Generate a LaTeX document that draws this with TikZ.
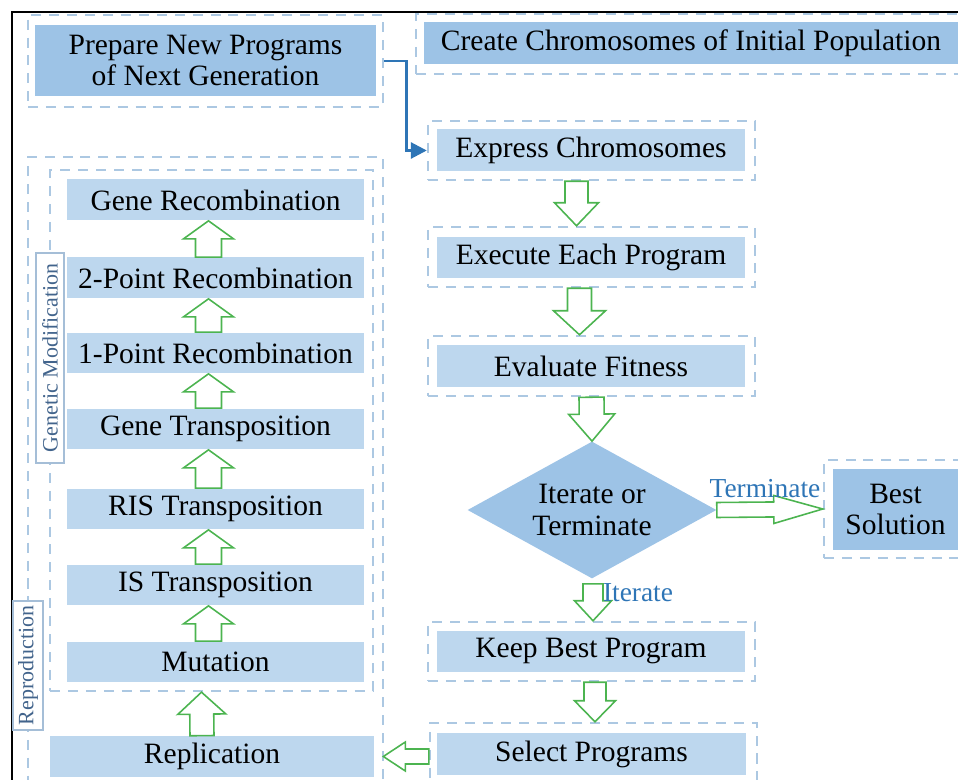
\documentclass[tikz,border=0pt]{standalone}
\usepackage{fontspec}
\setmainfont{Liberation Serif}
\usetikzlibrary{shapes.geometric,arrows.meta,calc}

\definecolor{darkfill}{RGB}{157,195,230}
\definecolor{lightfill}{RGB}{189,215,238}
\definecolor{dashblue}{RGB}{172,200,226}
\definecolor{arrowgreen}{RGB}{76,180,80}
\definecolor{linkblue}{RGB}{46,117,182}
\definecolor{tagtext}{RGB}{66,100,140}
\definecolor{tagline}{RGB}{165,190,215}

\tikzset{
  dashbox/.style={draw=dashblue, line width=1.4pt, dash pattern=on 5.7pt off 4.5pt, inner sep=0pt},
  stepbox/.style={fill=lightfill, inner sep=0pt, font=\fontsize{16.8}{18}\selectfont},
  darkbox/.style={fill=darkfill, inner sep=0pt, align=center, font=\fontsize{16.8}{18}\selectfont},
  hollow/.style={draw=arrowgreen, line width=0.9pt, fill=white, line join=miter},
  tag/.style={draw=tagline, fill=white, line width=0.6pt, rotate=90, text=tagtext, inner sep=0pt, font=\fontsize{12.5}{14}\selectfont},
  branch/.style={text=linkblue, inner sep=0pt, font=\fontsize{15.6}{18}\selectfont}
}

% block arrow: shaft half width, head half width, head length (px), from, to
\newcommand{\hollowarrow}[5]{%
  \coordinate (ha-s) at (#4);
  \coordinate (ha-e) at (#5);
  \coordinate (ha-c) at ($(ha-e)!#3*0.02cm!(ha-s)$);
  \draw[hollow] ($(ha-s)!#1*0.02cm!90:(ha-e)$) -- ($(ha-c)!#1*0.02cm!90:(ha-e)$)
    -- ($(ha-c)!#2*0.02cm!90:(ha-e)$) -- (ha-e)
    -- ($(ha-c)!#2*0.02cm!-90:(ha-e)$) -- ($(ha-c)!#1*0.02cm!-90:(ha-e)$)
    -- ($(ha-s)!#1*0.02cm!-90:(ha-e)$) -- cycle;
}

\begin{document}
\begin{tikzpicture}[x=0.02cm,y=-0.02cm]
\useasboundingbox (0,0) rectangle (958,780);
\draw[line width=1.2pt] (12,800) -- (12,12) -- (970,12);

% dashed frames
\node[dashbox, minimum width=7.1cm, minimum height=1.84cm] (prepD) at (205.5,61) {};
\node[dashbox, minimum width=11.08cm, minimum height=1.2cm] (createD) at (693,44) {};
\node[dashbox, minimum width=6.54cm, minimum height=1.18cm] (exprD) at (591.5,150.5) {};
\node[dashbox, minimum width=6.54cm, minimum height=1.2cm] (execD) at (591.5,257) {};
\node[dashbox, minimum width=6.54cm, minimum height=1.2cm] (evalD) at (591.5,366) {};
\node[dashbox, minimum width=6.54cm, minimum height=1.18cm] (keepD) at (591.5,651.5) {};
\node[dashbox, minimum width=6.54cm, minimum height=1.44cm] (selD) at (593.5,759) {};
\node[dashbox, minimum width=2.92cm, minimum height=1.96cm] (bestD) at (897,509) {};
\node[dashbox, minimum width=7.1cm, minimum height=12.86cm] (reproD) at (205.5,478.5) {};
\node[dashbox, minimum width=6.46cm, minimum height=10.42cm] (genD) at (211.5,430.5) {};

% side tags
\node[tag, minimum width=2.58cm, minimum height=0.6cm] (reprotag) at (28,665.5) {Reproduction};
\node[tag, minimum width=4.2cm, minimum height=0.56cm] (gentag) at (50,358) {Genetic Modification};

% top row
\node[darkbox, minimum width=6.82cm, minimum height=1.42cm] (prep) at (205.5,60.5) {Prepare New Programs\\of Next Generation};
\node[darkbox, minimum width=10.68cm, minimum height=0.84cm] (create) at (691,43) {Create Chromosomes of Initial Population};

% right column
\node[stepbox, minimum width=6.16cm, minimum height=0.84cm] (expr) at (591,150) {Express Chromosomes};
\node[stepbox, minimum width=6.16cm, minimum height=0.84cm] (exec) at (591,257.5) {Execute Each Program};
\node[stepbox, minimum width=6.16cm, minimum height=0.84cm] (eval) at (591,366) {Evaluate Fitness};
\node[diamond, fill=darkfill, aspect=1.82, minimum width=4.98cm, minimum height=2.74cm, inner sep=0pt, align=center, font=\fontsize{16.8}{18}\selectfont] (iter) at (592,510) {Iterate or\\Terminate};
\node[darkbox, minimum width=2.5cm, minimum height=1.62cm] (best) at (895.5,509.5) {Best\\Solution};
\node[stepbox, minimum width=6.16cm, minimum height=0.82cm] (keep) at (591,651.5) {Keep Best Program};
\node[stepbox, minimum width=6.18cm, minimum height=0.84cm] (sel) at (591.5,754) {Select Programs};

% left column
\node[stepbox, minimum width=5.94cm, minimum height=0.82cm] (generec) at (215.5,200) {Gene Recombination};
\node[stepbox, minimum width=5.94cm, minimum height=0.82cm] (twopoint) at (215.5,278) {2-Point Recombination};
\node[stepbox, minimum width=5.94cm, minimum height=0.82cm] (onepoint) at (215.5,353) {1-Point Recombination};
\node[stepbox, minimum width=5.94cm, minimum height=0.82cm] (genetrans) at (215.5,429) {Gene Transposition};
\node[stepbox, minimum width=5.94cm, minimum height=0.82cm] (ristrans) at (215.5,509) {RIS Transposition};
\node[stepbox, minimum width=5.94cm, minimum height=0.82cm] (istrans) at (215.5,585) {IS Transposition};
\node[stepbox, minimum width=5.94cm, minimum height=0.82cm] (mutation) at (215.5,662) {Mutation};
\node[stepbox, minimum width=6.48cm, minimum height=0.82cm] (replication) at (212,756.5) {Replication};

% blue link
\draw[linkblue, line width=1.6pt, -{Triangle[length=9pt,width=9pt]}] (prepD.east) -- ++(22,0) |- (exprD.west);

% right column arrows
\hollowarrow{11.5}{22}{23}{$(exprD.south)+(-15,0)$}{$(execD.north)+(-15,0)$}
\hollowarrow{12}{26}{24}{$(execD.south)+(-12,0)$}{$(evalD.north)+(-12,0)$}
\hollowarrow{12.5}{23}{27}{evalD.south}{iter.north}
\hollowarrow{7.5}{14}{49}{iter.east}{bestD.west}
\hollowarrow{10}{18.5}{20}{$(iter.south)+(1,5)$}{$(keepD.north)+(1.5,0)$}
\hollowarrow{11}{20.5}{21}{$(keepD.south)+(3.5,0)$}{$(selD.north)+(1.5,0)$}
\hollowarrow{7.5}{14.5}{22}{selD.west |- replication.east}{$(replication.east)+(9,0)$}

% left column arrows
\hollowarrow{13}{25}{18}{$(twopoint.north)+(-7,0)$}{$(generec.south)+(-7,0)$}
\hollowarrow{13}{25}{18}{$(onepoint.north)+(-7,0)$}{$(twopoint.south)+(-7,0)$}
\hollowarrow{13}{25}{18}{$(genetrans.north)+(-7,0)$}{$(onepoint.south)+(-7,0)$}
\hollowarrow{13}{25}{18}{$(ristrans.north)+(-7,0)$}{$(genetrans.south)+(-7,0)$}
\hollowarrow{13}{25}{18}{$(istrans.north)+(-7,0)$}{$(ristrans.south)+(-7,0)$}
\hollowarrow{13}{25}{18}{$(mutation.north)+(-7,0)$}{$(istrans.south)+(-7,0)$}
\hollowarrow{12}{24}{22}{$(replication.north)+(-10,0)$}{$(genD.south)+(-10,0)$}

% branch labels
\node[branch] (termlbl) at (765,489) {Terminate};
\node[branch] (iterlbl) at (638,593) {Iterate};
\end{tikzpicture}
\end{document}
